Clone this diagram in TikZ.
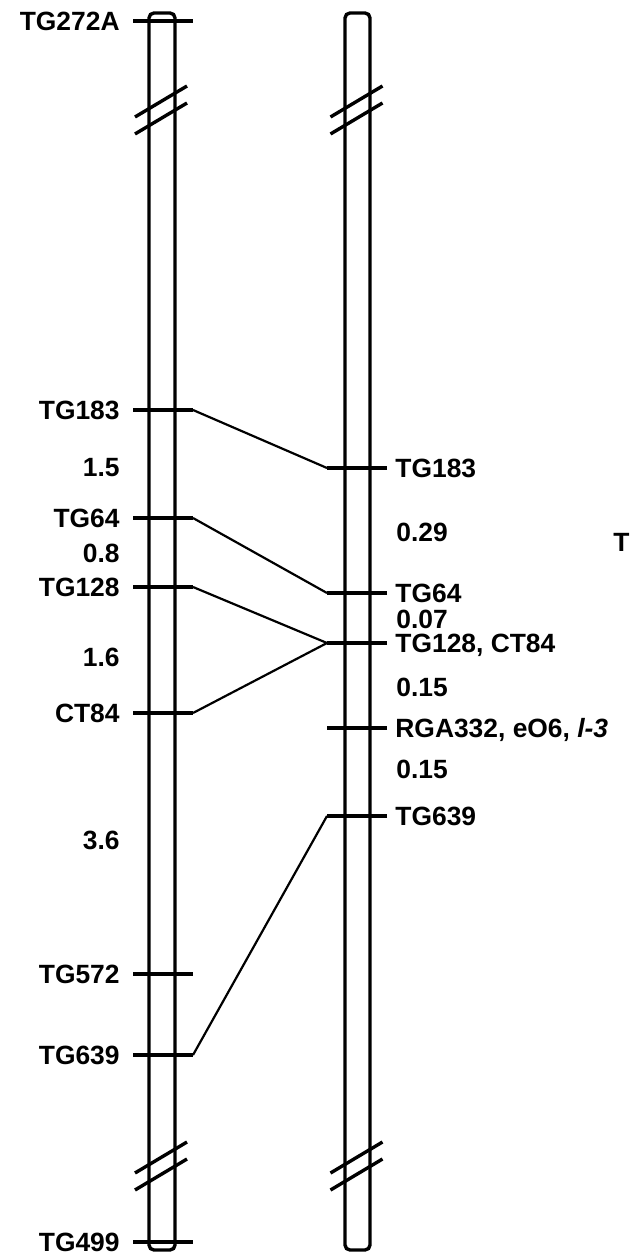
\documentclass[tikz,border=0pt]{standalone}
\usepackage{fontspec}
\setmainfont{Liberation Sans}
\begin{document}
\begin{tikzpicture}[
 x=.5pt,y=-.5pt,
 chrom/.style={line width=1.7pt,rounded corners=2.5pt},
 tick/.style={line width=1.7pt},
 link/.style={line width=1.1pt},
 brk/.style={line width=1.7pt},
 every node/.style={font=\bfseries\fontsize{13.2}{16}\selectfont,inner sep=0pt,text depth=0pt}]
 \useasboundingbox (0,0) rectangle (632,1256);
 % The two chromosomes.
 \draw[chrom] (149,13) rectangle (175,1250);
 \draw[chrom] (345,13) rectangle (370,1250);
 % Breaks.
 \foreach \cx in {162,357.5}{
  \foreach \by in {117,1173}{
   \draw[brk] (\cx-27,\by)--(\cx+25,\by-31) (\cx-27,\by+17)--(\cx+25,\by-14);
  }
 }
 % Left map.
 \foreach \nm/\y/\txt in {a/21/TG272A,183/410/TG183,64/518/TG64,128/587/TG128,
   CT84/713/CT84,572/974/TG572,639/1055/TG639,499/1242/TG499}{
  \draw[tick] (133,\y)--(193,\y) coordinate (L\nm);
  \node[anchor=east] (l\nm) at (120,\y){\txt};
 }
 \foreach \nm/\y/\d in {a/467/1.5,b/553/0.8,c/657/1.6,d/840/3.6}
  \node[anchor=east] (dl\nm) at (120,\y){\d};
 % Right map.
 \foreach \nm/\y/\txt in {183/468/TG183,64/593/TG64,128/643/{TG128, CT84},
   rga/728/{RGA332, eO6, \textit{l-3}},639/816/TG639}{
  \draw[tick] (387,\y)--(327,\y) coordinate (R\nm);
  \node[anchor=west] (r\nm) at (395,\y){\txt};
 }
 \foreach \nm/\y/\d in {a/532/0.29,b/619/0.07,c/687/0.15,d/769/0.15}
  \node[anchor=west] (dr\nm) at (396,\y){\d};
 \node[anchor=west] (cut) at (613,542){T};
 % Links between the maps.
 \draw[link] (L183)--(R183);
 \draw[link] (L64)--(R64);
 \draw[link] (L128)--(R128);
 \draw[link] (LCT84)--(R128);
 \draw[link] (L639)--(R639);
\end{tikzpicture}
\end{document}
